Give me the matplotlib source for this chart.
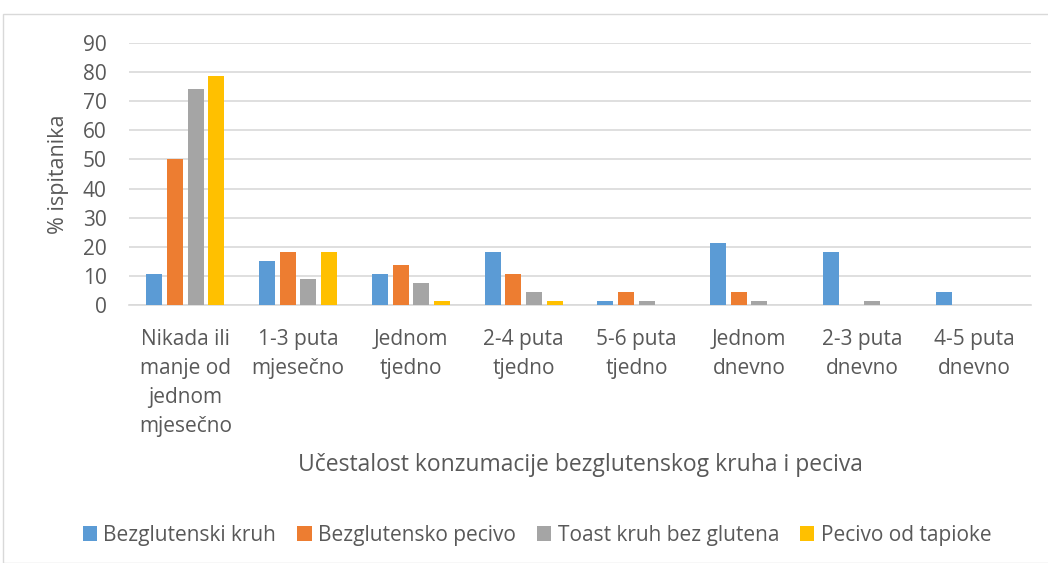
import numpy as np
import matplotlib.pyplot as plt
from matplotlib.patches import Rectangle

categories = ['Nikada ili\nmanje od\njednom\nmjesečno', '1-3 puta\nmjesečno', 'Jednom\ntjedno',
              '2-4 puta\ntjedno', '5-6 puta\ntjedno', 'Jednom\ndnevno', '2-3 puta\ndnevno', '4-5 puta\ndnevno']
series = ['Bezglutenski kruh', 'Bezglutensko pecivo', 'Toast kruh bez glutena', 'Pecivo od tapioke']
kruh = [10.5, 15.1, 10.6, 18.2, 1.5, 21.2, 18.2, 4.5]
pecivo = [50.0, 18.2, 13.6, 10.6, 4.5, 4.5, 0, 0]
toast = [74.2, 9.1, 7.6, 4.5, 1.5, 1.5, 1.5, 0]
tapioka = [78.8, 18.2, 1.5, 1.5, 0, 0, 0, 0]
colors = ['#5b9bd5', '#ed7d31', '#a5a5a5', '#ffc000']

plt.rcParams['font.family'] = ['Open Sans', 'DejaVu Sans']
txt = '#595959'

fig = plt.figure(figsize=(10.48, 5.63), dpi=100)
ax = fig.add_axes([129/1048, 1-305/563, (1031-129)/1048, (305-43)/563])

x = np.arange(len(categories))
step = 0.183
w = 0.142
for i, (vals, c, lab) in enumerate(zip([kruh, pecivo, toast, tapioka], colors, series)):
    ax.bar(x + (i - 1.5) * step, vals, w, color=c, label=lab, zorder=3)

ax.set_xlim(-0.5, len(categories) - 0.5)
ax.set_ylim(0, 90)
ax.set_yticks(range(0, 91, 10))
ax.grid(axis='y', color='#d9d9d9', linewidth=1.2, zorder=0)
for s in ['top', 'right', 'left']:
    ax.spines[s].set_visible(False)
ax.spines['bottom'].set_color('#d9d9d9')
ax.spines['bottom'].set_linewidth(1.2)
ax.tick_params(axis='both', length=0, labelsize=15, colors=txt)
ax.tick_params(axis='y', pad=16)
ax.set_xticks(x)
ax.set_xticklabels(categories, linespacing=1.5, va='top')
ax.tick_params(axis='x', pad=17)
ax.set_ylabel('% ispitanika', fontsize=15.5, color=txt, labelpad=10)
fig.text(580/1048, 1-465/563, 'Učestalost konzumacije bezglutenskog kruha i peciva',
         fontsize=16.5, color=txt, ha='center', va='center')

fig.legend(loc='center', bbox_to_anchor=(537/1048, 1-535/563), ncol=4, frameon=False,
           fontsize=15, labelcolor=txt, handlelength=0.7, handleheight=0.7,
           handletextpad=0.3, columnspacing=1.0)

fig.patches.append(Rectangle((3/1048, 0), 1.2, 1-14/563, transform=fig.transFigure,
                             fill=False, edgecolor='#d9d9d9', linewidth=1))

fig.savefig('out.png', dpi=100)
